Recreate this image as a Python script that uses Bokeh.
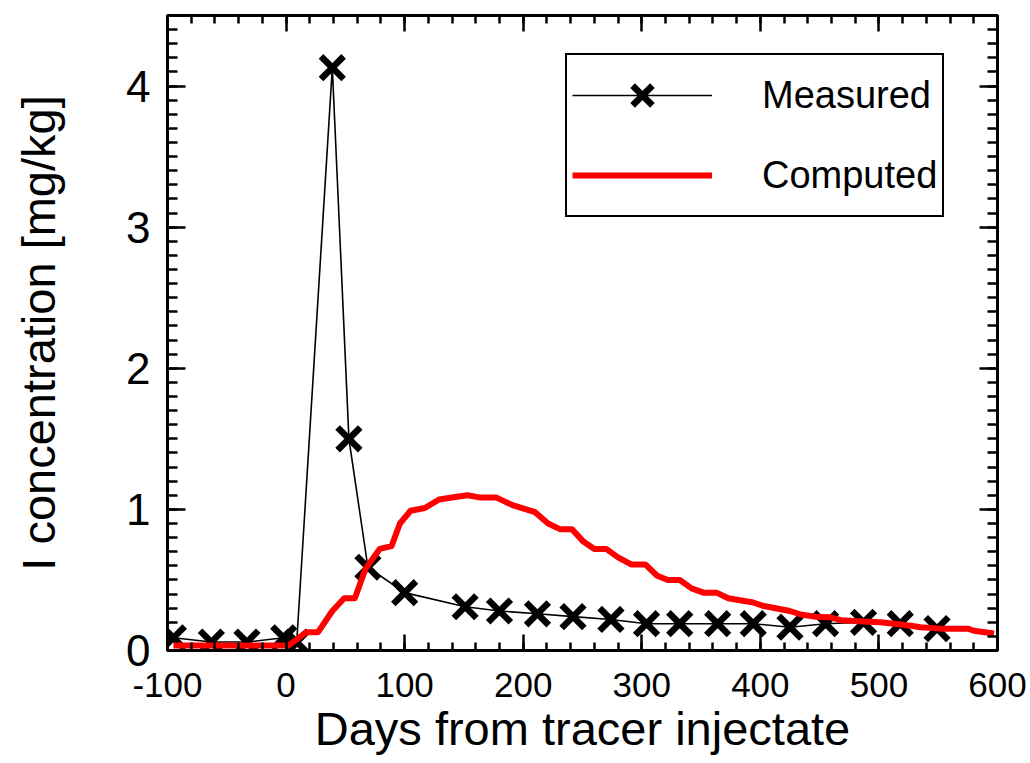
from bokeh.plotting import figure
from bokeh.models import (Range1d, LinearAxis, SingleIntervalTicker, Legend, LegendItem,
                          CustomJSTickFormatter)
from bokeh.embed import file_html
from bokeh.resources import INLINE

# ---- data ----
measured_days = [-95, -63, -33, -2, 9, 39, 53, 69, 100, 151, 180, 212, 242, 274,
                 304, 332, 364, 394, 425, 455, 487, 518, 549]
measured_conc = [0.09, 0.06, 0.06, 0.09, 0.06, 4.13, 1.50, 0.59, 0.41, 0.31, 0.28,
                 0.26, 0.24, 0.22, 0.19, 0.19, 0.19, 0.19, 0.165, 0.19, 0.20, 0.19, 0.155]

computed_days = [-95, 2, 17, 27, 39, 49, 58, 67, 79, 89, 96, 105, 117, 129, 144, 153,
                 163, 177, 191, 210, 221, 231, 241, 251, 260, 270, 280, 291, 303, 313,
                 322, 332, 342, 352, 363, 373, 394, 403, 425, 434, 446, 459, 468, 487,
                 501, 513, 527, 535, 552, 575, 580, 597]
computed_conc = [0.035, 0.035, 0.13, 0.13, 0.28, 0.37, 0.37, 0.58, 0.72, 0.74, 0.90,
                 0.99, 1.01, 1.07, 1.09, 1.10, 1.085, 1.085, 1.03, 0.98, 0.90, 0.86,
                 0.86, 0.77, 0.72, 0.72, 0.66, 0.61, 0.61, 0.53, 0.50, 0.50, 0.44, 0.41,
                 0.41, 0.37, 0.34, 0.315, 0.28, 0.255, 0.24, 0.235, 0.215, 0.205, 0.20,
                 0.19, 0.175, 0.165, 0.155, 0.155, 0.14, 0.12]

x_label = "Days from tracer injectate"
y_label = "I concentration [mg/kg]"
series_names = ["Measured", "Computed"]

FONT = "Liberation Sans"

p = figure(width=1030, height=763, x_range=Range1d(-100, 600), y_range=Range1d(0, 4.5),
           output_backend="svg", toolbar_location=None,
           min_border_left=167, min_border_right=33, min_border_top=15, min_border_bottom=113)
p.grid.visible = False
p.outline_line_color = "black"
p.outline_line_width = 3
p.background_fill_color = "white"
p.border_fill_color = "white"

plain_fmt = CustomJSTickFormatter(code="return tick.toFixed(0);")


def style_axis(ax, show_labels, major_len, minor_len, label_size="33px"):
    ax.axis_line_color = "black"
    ax.axis_line_width = 3
    ax.major_tick_in = major_len
    ax.major_tick_out = 0
    ax.minor_tick_in = minor_len
    ax.minor_tick_out = 0
    ax.major_tick_line_width = 2.5
    ax.minor_tick_line_width = 2.5
    ax.major_tick_line_color = "black"
    ax.minor_tick_line_color = "black"
    if show_labels:
        ax.formatter = plain_fmt
        ax.major_label_text_font = FONT
        ax.major_label_text_font_size = label_size
        ax.major_label_text_color = "black"
        ax.axis_label_text_font = FONT
        ax.axis_label_text_font_size = "47px"
        ax.axis_label_text_font_style = "normal"
        ax.axis_label_text_color = "black"
    else:
        ax.major_label_text_color = None
        ax.major_label_text_font_size = "1px"
        ax.major_label_standoff = 0


p.xaxis.ticker = SingleIntervalTicker(interval=100, num_minor_ticks=5)
p.yaxis.ticker = SingleIntervalTicker(interval=1, num_minor_ticks=10)
style_axis(p.xaxis[0], True, 16, 8, "35px")
style_axis(p.yaxis[0], True, 18, 10, "44px")
p.xaxis.axis_label = x_label
p.yaxis.axis_label = y_label
p.xaxis.major_label_standoff = 22
p.xaxis.axis_label_standoff = 2
p.yaxis.major_label_standoff = 17
p.yaxis.axis_label_standoff = 58

top = LinearAxis(ticker=SingleIntervalTicker(interval=100, num_minor_ticks=5))
style_axis(top, False, 16, 8)
p.add_layout(top, "above")
right = LinearAxis(ticker=SingleIntervalTicker(interval=1, num_minor_ticks=10))
style_axis(right, False, 18, 10)
p.add_layout(right, "right")

m_line = p.line(measured_days, measured_conc, line_color="black", line_width=1.6)
m_pts = p.scatter(measured_days, measured_conc, marker="x", size=32, line_color="black",
                  line_width=6.5)
c_line = p.line(computed_days, computed_conc, line_color="#ff0000", line_width=6,
                line_join="round")

legend = Legend(items=[LegendItem(label=series_names[0], renderers=[m_line, m_pts]),
                       LegendItem(label=series_names[1], renderers=[c_line])],
                location=(398, 433))
legend.glyph_height = 70
legend.glyph_width = 140
legend.label_height = 70
legend.spacing = 10
legend.padding = 5
legend.margin = 0
legend.label_standoff = 50
legend.label_text_font = FONT
legend.label_text_font_size = "38px"
legend.label_text_color = "black"
legend.border_line_color = "black"
legend.border_line_alpha = 1
legend.border_line_width = 2
legend.background_fill_alpha = 1
p.add_layout(legend, "center")

open("out.html", "w").write(file_html(p, INLINE))
